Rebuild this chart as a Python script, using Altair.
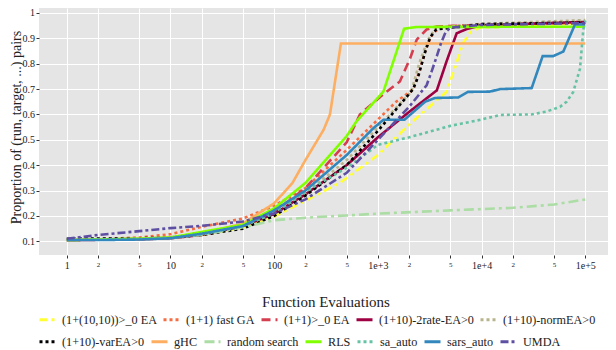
import altair as alt
import pandas as pd

# ---------------- data ----------------
NAMES = ["(1+(10,10))>_0 EA", "(1+1) fast GA", "(1+1)>_0 EA", "(1+10)-2rate-EA>0",
         "(1+10)-normEA>0", "(1+10)-varEA>0", "gHC", "random search", "RLS",
         "sa_auto", "sars_auto", "UMDA"]
ROW1 = NAMES[:5]
ROW2 = NAMES[5:]

COLORS = ["#FFFF33", "#F46D43", "#D53E4F", "#9E0142", "#B8B48C", "#000000",
          "#FDAE61", "#ABDDA4", "#80FF00", "#66C2A5", "#3288BD", "#5E4FA2"]
DASHES = [[8, 4, 3, 4], [3, 3], [9, 5], [1, 0], [3, 3], [3, 3],
          [1, 0], [10, 4, 3, 4], [1, 0], [3, 3], [1, 0], [8, 3, 3, 3]]

X_TICKS = [1, 2, 5, 10, 20, 50, 100, 200, 500, 1000, 2000, 5000,
           10000, 20000, 50000, 100000]
Y_TICKS = [0.1, 0.2, 0.3, 0.4, 0.5, 0.6, 0.7, 0.8, 0.9, 1.0]

EA1010_X = [1, 2, 5, 10, 20, 50, 100, 200, 430, 1000, 2000, 4600, 5600, 6600, 7800, 9500, 100000]
EA1010_Y = [0.105, 0.107, 0.109, 0.113, 0.125, 0.155, 0.198, 0.26, 0.33, 0.44, 0.56, 0.69, 0.79, 0.88, 0.925, 0.942, 0.96]

FASTGA_X = [1, 2, 5, 10, 20, 50, 100, 200, 500, 1000, 1500, 2200, 2550, 2950, 3400, 3900, 5000, 10000, 100000]
FASTGA_Y = [0.105, 0.108, 0.115, 0.128, 0.157, 0.19, 0.24, 0.31, 0.46, 0.58, 0.65, 0.70, 0.78, 0.87, 0.92, 0.94, 0.948, 0.954, 0.965]

EA11_X = [1, 2, 5, 10, 20, 50, 100, 200, 500, 670, 1130, 1630, 2040, 2370, 2950, 3700, 10000, 100000]
EA11_Y = [0.105, 0.107, 0.11, 0.115, 0.13, 0.165, 0.215, 0.31, 0.49, 0.60, 0.68, 0.73, 0.82, 0.895, 0.935, 0.947, 0.953, 0.962]

RATE2_X = [1, 2, 5, 10, 20, 50, 100, 200, 500, 1000, 2000, 3700, 4600, 5750, 7200, 10000, 100000]
RATE2_Y = [0.104, 0.106, 0.108, 0.112, 0.125, 0.16, 0.208, 0.285, 0.40, 0.51, 0.61, 0.695, 0.81, 0.92, 0.937, 0.952, 0.965]

NORM_X = [1, 2, 5, 10, 20, 50, 100, 200, 500, 1000, 2100, 2500, 3000, 3600, 10000, 100000]
NORM_Y = [0.106, 0.108, 0.11, 0.114, 0.128, 0.158, 0.21, 0.29, 0.42, 0.55, 0.69, 0.80, 0.89, 0.94, 0.957, 0.972]

VAR_X = [1, 2, 5, 10, 20, 50, 100, 200, 500, 1000, 2190, 2450, 2850, 3200, 3650, 10000, 100000]
VAR_Y = [0.11, 0.111, 0.112, 0.114, 0.125, 0.15, 0.2, 0.28, 0.40, 0.535, 0.70, 0.75, 0.845, 0.905, 0.935, 0.956, 0.963]

GHC_X = [1, 2, 5, 10, 20, 50, 100, 150, 200, 300, 345, 440, 100000]
GHC_Y = [0.105, 0.107, 0.11, 0.115, 0.13, 0.17, 0.25, 0.33, 0.42, 0.54, 0.60, 0.88, 0.88]

RAND_X = [1, 2, 5, 10, 20, 50, 100, 200, 500, 1000, 5000, 20000, 50000, 100000]
RAND_Y = [0.105, 0.107, 0.11, 0.114, 0.125, 0.155, 0.183, 0.193, 0.202, 0.209, 0.222, 0.232, 0.245, 0.265]

RLS_X = [1, 2, 5, 10, 20, 50, 100, 200, 500, 620, 1130, 1790, 2370, 100000]
RLS_Y = [0.105, 0.107, 0.11, 0.115, 0.137, 0.165, 0.23, 0.33, 0.515, 0.572, 0.69, 0.938, 0.945, 0.946]

SA_X = [1, 2, 5, 10, 20, 50, 100, 200, 500, 1000, 2000, 5000, 10000, 15000, 30000,
        42000, 57000, 66000, 76600, 88900, 95700, 100000]
SA_Y = [0.105, 0.107, 0.109, 0.113, 0.127, 0.16, 0.21, 0.295, 0.39, 0.48, 0.51, 0.555, 0.58, 0.598, 0.60,
        0.611, 0.63, 0.65, 0.689, 0.78, 0.935, 0.97]

SARS_X = [1, 2, 5, 10, 20, 50, 100, 200, 500, 900, 1130, 1800, 2850, 3550, 5950, 7400,
          12000, 15000, 30400, 38800, 49000, 61400, 79600, 100000]
SARS_Y = [0.105, 0.105, 0.107, 0.112, 0.13, 0.16, 0.222, 0.30, 0.44, 0.545, 0.579, 0.579, 0.65, 0.665, 0.667, 0.689,
          0.69, 0.70, 0.704, 0.83, 0.83, 0.848, 0.955, 0.955]

UMDA_X = [1, 2, 5, 10, 20, 50, 100, 200, 500, 1000, 2000, 2950, 3300, 3700, 4050, 4500, 5000, 10000, 100000]
UMDA_Y = [0.11, 0.125, 0.14, 0.152, 0.161, 0.178, 0.21, 0.265, 0.37, 0.50, 0.63, 0.715, 0.77, 0.83, 0.88, 0.925, 0.942, 0.953, 0.96]

SERIES = [(EA1010_X, EA1010_Y), (FASTGA_X, FASTGA_Y), (EA11_X, EA11_Y), (RATE2_X, RATE2_Y),
          (NORM_X, NORM_Y), (VAR_X, VAR_Y), (GHC_X, GHC_Y), (RAND_X, RAND_Y), (RLS_X, RLS_Y),
          (SA_X, SA_Y), (SARS_X, SARS_Y), (UMDA_X, UMDA_Y)]

rows = []
for k, (name, (xs, ys)) in enumerate(zip(NAMES, SERIES)):
    for i, (xv, yv) in enumerate(zip(xs, ys)):
        rows.append({"series": name, "x": xv, "y": yv, "k": k, "i": i})
df = pd.DataFrame(rows)

FONT = "Liberation Serif"
W, H = 569, 247

is_major = "abs(log(datum.value)/LN10 - round(log(datum.value)/LN10)) < 0.001"
x_label_expr = (f"({is_major}) ? (datum.value >= 1000 ? '1e+' + round(log(datum.value)/LN10) "
                ": format(datum.value, 'd')) : "
                "format(datum.value / pow(10, floor(log(datum.value)/LN10 + 0.001)), 'd')")

x_axis = alt.Axis(values=X_TICKS, labelExpr=x_label_expr, labelOverlap=False, labelFlush=False,
                  labelFontSize={"condition": {"test": is_major, "value": 10}, "value": 7},
                  labelPadding=2,
                  title="Function Evaluations", titleX=286.5, titleY=51,
                  titleBaseline="alphabetic", titleAlign="center", titleFontSize=15)
y_axis = alt.Axis(values=Y_TICKS, format=".1~f", labelFontSize=10, labelPadding=1.5,
                  title="Proportion of (run, target, ...) pairs", titleX=-18.5, titleY=119,
                  titleBaseline="alphabetic", titleAlign="center", titleAngle=270,
                  titleFontSize=14)

x_enc = alt.X("x:Q", scale=alt.Scale(type="log", domain=[0.5395, 165600], nice=False), axis=x_axis)
y_enc = alt.Y("y:Q", scale=alt.Scale(domain=[0.046, 1.0197], nice=False, zero=False), axis=y_axis)


def legend(n, y):
    return alt.Legend(orient="none", legendX=-1, legendY=y, direction="horizontal", columns=n,
                      title=None, symbolType="stroke", symbolSize=256, symbolStrokeWidth=3,
                      labelFont=FONT, labelFontSize=12.2, labelOffset=5, columnPadding=0,
                      padding=0, labelLimit=0, rowPadding=0)


def layer(names, ly):
    idx = [NAMES.index(n) for n in names]
    cols = [COLORS[j] for j in idx]
    dashes = [DASHES[j] for j in idx]
    return alt.Chart(df).transform_filter(
        alt.FieldOneOfPredicate(field="series", oneOf=names)
    ).mark_line(strokeWidth=2.6, clip=True).encode(
        x=x_enc, y=y_enc,
        color=alt.Color("series:N", scale=alt.Scale(domain=names, range=cols),
                        legend=legend(len(names), ly)),
        strokeDash=alt.StrokeDash("series:N", scale=alt.Scale(domain=names, range=dashes),
                                  legend=legend(len(names), ly)),
        order="i:Q",
    )


chart = alt.layer(layer(ROW1, 302), layer(ROW2, 324)).resolve_scale(
    color="independent", strokeDash="independent"
).resolve_legend(
    color="independent", strokeDash="independent"
).properties(
    width=W, height=H,
    autosize=alt.AutoSizeParams(type="none"),
    padding={"left": 31, "top": 0, "right": 0, "bottom": 95},
).configure_view(
    fill="#E5E5E5", stroke=None
).configure_axis(
    domain=False, grid=True, gridColor="#FFFFFF", gridWidth=1,
    tickSize=3, tickColor="#333333",
    labelFont=FONT, titleFont=FONT, labelColor="#222222", titleColor="#222222",
    titleFontWeight="normal",
).configure_legend(
    labelColor="#222222"
)

chart.save("out.html", embed_options={"renderer": "svg", "actions": False})
